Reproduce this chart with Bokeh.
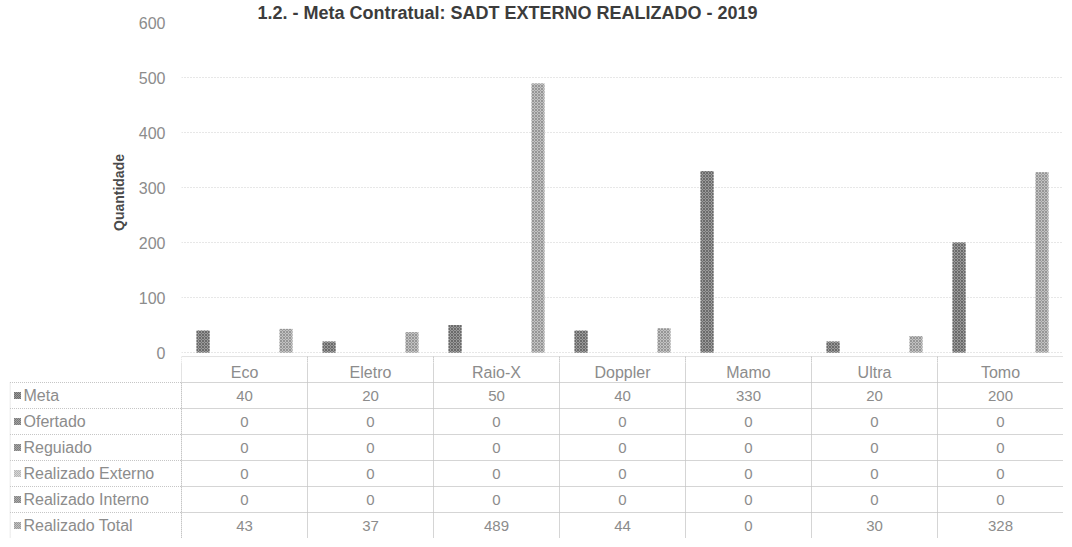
from bokeh.plotting import figure
from bokeh.models import FactorRange, Range1d, ColumnDataSource, FixedTicker, Title
from bokeh.transform import dodge
from bokeh.embed import file_html
from bokeh.resources import INLINE
from bokeh.core.properties import value

# ---------------- data ----------------
title_text = "1.2. - Meta Contratual: SADT EXTERNO REALIZADO - 2019"
y_axis_title = "Quantidade"
categories = ["Eco", "Eletro", "Raio-X", "Doppler", "Mamo", "Ultra", "Tomo"]
series_names = ["Meta", "Ofertado", "Reguiado", "Realizado Externo",
                "Realizado Interno", "Realizado Total"]
meta = [40, 20, 50, 40, 330, 20, 200]
ofertado = [0, 0, 0, 0, 0, 0, 0]
regulado = [0, 0, 0, 0, 0, 0, 0]
realizado_externo = [0, 0, 0, 0, 0, 0, 0]
realizado_interno = [0, 0, 0, 0, 0, 0, 0]
realizado_total = [43, 37, 489, 44, 0, 30, 328]
y_ticks = [0, 100, 200, 300, 400, 500, 600]

series_values = [meta, ofertado, regulado, realizado_externo,
                 realizado_interno, realizado_total]

# ---------------- styles ----------------
FONT = "Liberation Sans"
TXT = "#8c8c8c"
BORDER = "#c6c6c6"
fills = ["#9a9a9a", "#a4a4a4", "#a8a8a8", "#d8d8d8", "#adadad", "#c2c2c2"]
hatches = ["#6a6a6a", "#767676", "#7a7a7a", "#b4b4b4", "#808080", "#969696"]
offsets = [-0.329, -0.197, -0.066, 0.066, 0.197, 0.329]
bar_w = 0.103

COL_PX = 126
N = len(categories)
FRAME_W = COL_PX * N          # 882
LEFT = 181                    # frame starts at page x ~182
TOP = 20
PLOT_H = 332                  # 0..600
PX_PER_UNIT = PLOT_H / 600.0
BELOW = 10                    # frame continues 10px below zero
HDR_GAP = 4                   # header row starts 4px below zero

# ---------------- chart ----------------
keys = ["s%d" % i for i in range(len(series_names))]
data = dict(cat=categories)
for k, v in zip(keys, series_values):
    data[k] = v
src = ColumnDataSource(data)

ymin = -BELOW / PX_PER_UNIT
p = figure(x_range=FactorRange(*categories), y_range=Range1d(ymin, 600),
           x_axis_type=None, width=LEFT + FRAME_W, height=TOP + PLOT_H + BELOW,
           min_border_left=LEFT, min_border_right=0,
           min_border_top=TOP, min_border_bottom=0,
           output_backend="svg", toolbar_location=None,
           outline_line_color=None)

p.add_layout(Title(text=title_text, align="left", offset=76,
                   text_font=FONT, text_font_style="bold",
                   text_font_size="18px", text_color="#3c3c3c",
                   standoff=0), "above")

for i, k in enumerate(keys):
    p.vbar(x=dodge("cat", offsets[i], range=p.x_range), top=k, width=bar_w,
           source=src, fill_color=fills[i], line_color=None,
           hatch_pattern="diagonal_cross", hatch_color=hatches[i],
           hatch_scale=3, hatch_weight=1)

# top part of the category header cells (continues in the table figure)
hdr_top = -HDR_GAP / PX_PER_UNIT
p.quad(left=dodge("cat", -0.5, range=p.x_range),
       right=dodge("cat", 0.5, range=p.x_range),
       top=hdr_top, bottom=ymin * 3, source=src,
       fill_color=None, line_color=BORDER, line_dash="1 1", line_width=1)

yax = p.yaxis[0]
yax.ticker = FixedTicker(ticks=y_ticks)
yax.axis_line_color = None
yax.major_tick_line_color = None
yax.major_tick_out = 0
yax.minor_tick_line_color = None
yax.major_label_standoff = 16
yax.major_label_text_font = FONT
yax.major_label_text_font_size = "16px"
yax.major_label_text_color = TXT
yax.axis_label = y_axis_title
yax.axis_label_text_font = FONT
yax.axis_label_text_font_style = "bold"
yax.axis_label_text_font_size = "14px"
yax.axis_label_text_color = "#4a4a4a"
yax.axis_label_standoff = 9

p.xgrid.visible = False
p.ygrid.ticker = FixedTicker(ticks=y_ticks[:-1])
p.ygrid.grid_line_color = "#cfcfcf"
p.ygrid.grid_line_dash = "1 2"
p.ygrid.grid_line_width = 1

# ---------------- data table ----------------
L = (LEFT - 9) / COL_PX
nrows = len(series_names)
ROW_PX = 26
HDR_PX = 20
hh = HDR_PX / ROW_PX
t = figure(x_range=Range1d(-L, N), y_range=Range1d(0, nrows + hh),
           x_axis_type=None, y_axis_type=None,
           width=LEFT + FRAME_W, height=nrows * ROW_PX + HDR_PX,
           min_border_left=9, min_border_right=0,
           min_border_top=0, min_border_bottom=0,
           output_backend="svg", toolbar_location=None,
           outline_line_color=None)
t.grid.visible = False

col_idx = list(range(N))
# header cells (lower part)
t.quad(left=col_idx, right=[c + 1 for c in col_idx],
       bottom=[nrows] * N, top=[nrows + 3] * N,
       fill_color=None, line_color=BORDER, line_dash="1 1", line_width=1)
t.text(x=[c + 0.5 for c in col_idx], y=[nrows + hh / 2] * N, text=categories,
       text_align="center", text_baseline="middle",
       text_font=value(FONT), text_font_size="16px", text_color=TXT)

# body cells
cl, cr, cb, ct = [], [], [], []
tx, ty, tt = [], [], []
for r, vals in enumerate(series_values):
    yc = nrows - 0.5 - r
    cl.append(-L + 0.004); cr.append(0); cb.append(yc - 0.5); ct.append(yc + 0.5)
    for c, v in enumerate(vals):
        cl.append(c); cr.append(c + 1); cb.append(yc - 0.5); ct.append(yc + 0.5)
        tx.append(c + 0.5); ty.append(yc); tt.append(str(v))
t.quad(left=cl, right=cr, bottom=cb, top=ct, fill_color=None,
       line_color=BORDER, line_dash="1 1", line_width=1)
t.text(x=tx, y=ty, text=tt, text_align="center", text_baseline="middle",
       text_font=value(FONT), text_font_size="15px", text_color=TXT)

name_y = [nrows - 0.5 - r for r in range(nrows)]
t.scatter(x=[-L + 8 / COL_PX] * nrows, y=name_y, marker="square", size=7,
          fill_color=fills, line_color=None, hatch_pattern="diagonal_cross",
          hatch_color=hatches, hatch_scale=2)
t.text(x=[-L + 14 / COL_PX] * nrows, y=name_y, text=series_names,
       text_align="left", text_baseline="middle",
       text_font=value(FONT), text_font_size="16px", text_color=TXT)

open("out.html", "w").write(file_html((p, t), INLINE))
